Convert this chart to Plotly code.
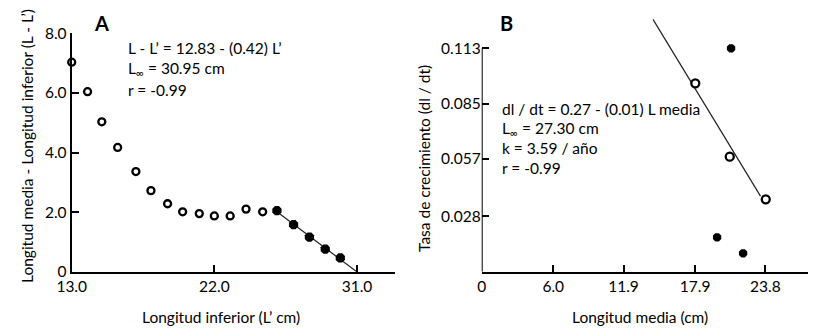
import numpy as np
import plotly.graph_objects as go

# ---------------- data ----------------
# Panel A
a_open_x = [13.0, 14.0, 14.9, 15.9, 17.05, 18.0, 19.05, 20.0, 21.05, 22.0, 23.0, 24.0, 25.05]
a_open_y = [7.03, 6.04, 5.03, 4.17, 3.36, 2.72, 2.28, 2.01, 1.95, 1.87, 1.87, 2.10, 2.01]
a_fill_x = [25.95, 27.0, 28.0, 29.0, 29.95]
a_fill_y = [2.05, 1.58, 1.16, 0.76, 0.46]
a_xticks = [13.0, 22.0, 31.0]
a_xtick_text = ["13.0", "22.0", "31.0"]
a_yticks = [0, 2, 4, 6, 8]
a_ytick_text = ["0", "2.0", "4.0", "6.0", "8.0"]
a_text = ["L - L\u2019 = 12.83 - (0.42) L\u2019", "L<sub>\u221e</sub> = 30.95 cm", "r = -0.99"]

# Panel B
b_open_x = [17.92, 20.81, 23.83]
b_open_y = [0.0953, 0.0582, 0.0366]
b_fill_x = [20.92, 19.75, 21.93]
b_fill_y = [0.113, 0.0174, 0.0093]
b_fit_x = [14.37, 23.39]
b_xticks = [0, 6.0, 11.9, 17.9, 23.8]
b_xtick_text = ["0", "6.0", "11.9", "17.9", "23.8"]
b_yticks = [0.028, 0.057, 0.085, 0.113]
b_ytick_text = ["0.028", "0.057", "0.085", "0.113"]
b_text = ["dl / dt = 0.27 - (0.01) L media", "L<sub>\u221e</sub> = 27.30 cm",
          "k = 3.59 / a\u00f1o", "r = -0.99"]

# ---------------- fits ----------------
sa, ia = np.polyfit(a_fill_x, a_fill_y, 1)
a_fit_x = [a_fill_x[0], -ia / sa]
a_fit_y = [sa * v + ia for v in a_fit_x]
sb, ib = np.polyfit(b_open_x, b_open_y, 1)
b_fit_y = [sb * v + ib for v in b_fit_x]

W, H = 825, 336
FONT = "Lato"
TXT = 15.5
fig = go.Figure()

line_style = dict(color="#222", width=1.2)
open_marker = dict(symbol="circle", size=7, color="white", line=dict(color="black", width=2.3))
fill_marker = dict(symbol="octagon", size=10, color="black", line=dict(color="black", width=0))

fig.add_trace(go.Scatter(x=a_fit_x, y=a_fit_y, mode="lines", line=line_style,
                         xaxis="x", yaxis="y", cliponaxis=False, showlegend=False))
fig.add_trace(go.Scatter(x=a_open_x, y=a_open_y, mode="markers", marker=open_marker,
                         xaxis="x", yaxis="y", cliponaxis=False, showlegend=False))
fig.add_trace(go.Scatter(x=a_fill_x, y=a_fill_y, mode="markers", marker=fill_marker,
                         xaxis="x", yaxis="y", cliponaxis=False, showlegend=False))

fig.add_trace(go.Scatter(x=b_fit_x, y=b_fit_y, mode="lines", line=line_style,
                         xaxis="x2", yaxis="y2", cliponaxis=False, showlegend=False))
fig.add_trace(go.Scatter(x=b_open_x, y=b_open_y, mode="markers",
                         marker=dict(open_marker, size=8),
                         xaxis="x2", yaxis="y2", cliponaxis=False, showlegend=False))
fig.add_trace(go.Scatter(x=b_fill_x, y=b_fill_y, mode="markers",
                         marker=dict(fill_marker, size=9),
                         xaxis="x2", yaxis="y2", cliponaxis=False, showlegend=False))

tickfont = dict(family=FONT, size=15.5, color="black")
common = dict(showgrid=False, zeroline=False, ticks="inside", ticklen=7, tickwidth=2,
              tickcolor="black", tickfont=tickfont, linecolor="black", linewidth=2,
              automargin=False)

def px_x(p):
    return p / W

def px_y(p):
    return 1 - p / H

fig.update_layout(
    template="none",
    width=W, height=H, margin=dict(l=0, r=0, t=0, b=0, pad=0, autoexpand=False),
    paper_bgcolor="white", plot_bgcolor="white",
    font=dict(family=FONT, size=TXT, color="black"),
    xaxis=dict(common, domain=[px_x(71.7), px_x(395)], range=[13, 33.4],
               tickvals=a_xticks, ticktext=a_xtick_text, showline=True, anchor="y"),
    yaxis=dict(common, domain=[px_y(271.7), px_y(33.3)], range=[0, 8],
               tickvals=a_yticks, ticktext=a_ytick_text, showline=True, anchor="x"),
    xaxis2=dict(common, domain=[px_x(481.7), px_x(808.3)], range=[0, 27.4],
                tickvals=b_xticks, ticktext=b_xtick_text, showline=True, anchor="y2"),
    yaxis2=dict(common, domain=[px_y(271.7), px_y(271.7 - 223.4 * 0.128 / 0.113)],
                range=[0, 0.128], tickvals=b_yticks, ticktext=b_ytick_text,
                showline=False, anchor="x2"),
)

# y axis line of panel B only up to top tick
fig.add_shape(type="line", xref="x2", yref="y2", x0=0, x1=0, y0=0, y1=b_yticks[-1],
              line=dict(color="black", width=2))

anns = []
# panel letters
anns.append(dict(text="<b>A</b>", x=px_x(101.7), y=px_y(23.3), size=20))
anns.append(dict(text="<b>B</b>", x=px_x(506.7), y=px_y(23.3), size=20))
# axis titles
anns.append(dict(text="Longitud inferior (L\u2019 cm)", x=px_x(221), y=px_y(317)))
anns.append(dict(text="Longitud media (cm)", x=px_x(639.5), y=px_y(317)))
anns.append(dict(text="Longitud media - Longitud inferior (L - L\u2019)", x=px_x(27),
                 y=px_y(146), textangle=-90))
anns.append(dict(text="Tasa de crecimiento (dl / dt)", x=px_x(424), y=px_y(159),
                 textangle=-90))
# equation texts
for i, t in enumerate(a_text):
    anns.append(dict(text=t, x=px_x(126), y=px_y(48.3 + 20.8 * i), xanchor="left"))
for i, t in enumerate(b_text):
    anns.append(dict(text=t, x=px_x(500), y=px_y(109.3 + 19.4 * i), xanchor="left"))

for a in anns:
    size = a.pop("size", TXT)
    a.setdefault("xanchor", "center")
    a.update(xref="paper", yref="paper", showarrow=False, yanchor="middle",
             font=dict(family=FONT, color="black", size=size))
    fig.add_annotation(**a)

fig.write_html("out.html")
